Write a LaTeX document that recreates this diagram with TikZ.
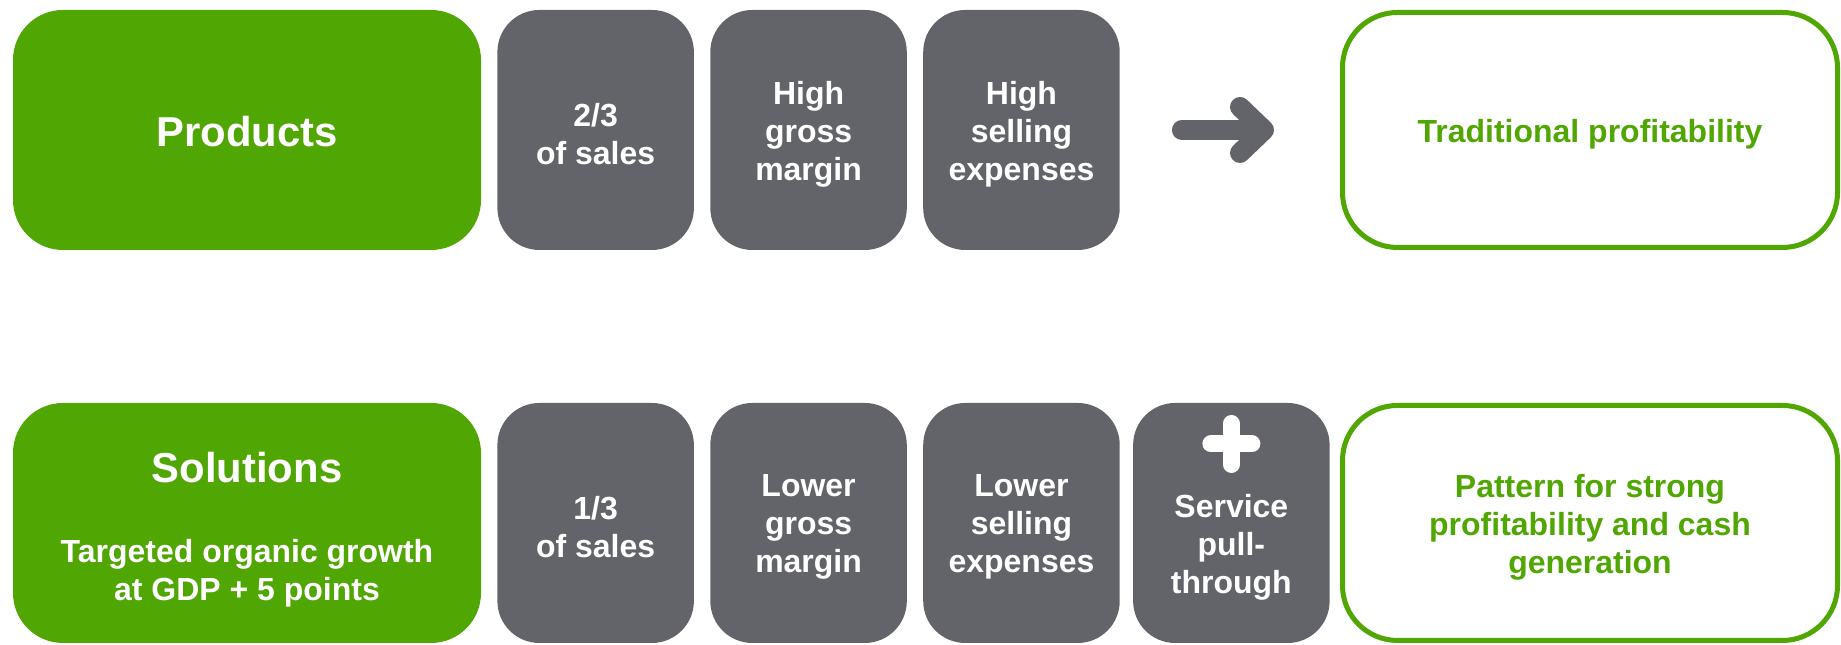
\documentclass[tikz,border=0pt]{standalone}
\usepackage{fontspec}
\setmainfont{Liberation Sans}
\usetikzlibrary{positioning,arrows.meta}

\definecolor{leafgreen}{RGB}{80,166,3}
\definecolor{slategray}{RGB}{99,100,106}

\begin{document}
\begin{tikzpicture}
    % Define styles
    \tikzset{
        groupbox/.style={fill=leafgreen, rounded corners=0.5cm, minimum width=4.68cm, minimum height=2.4cm},
        grouptitle/.style={text=white, font=\bfseries\fontsize{11.9}{14}\selectfont, yshift=-0.015cm},
        factbox/.style={fill=slategray, rounded corners=0.42cm, minimum width=1.965cm, minimum height=2.4cm},
        facttext/.style={text=white, align=center, font=\bfseries\fontsize{9.1}{10.8}\selectfont, yshift=-0.04cm},
        resultbox/.style={draw=leafgreen, line width=0.05cm, rounded corners=0.55cm, minimum width=4.95cm,
            minimum height=2.35cm},
        resulttext/.style={facttext, text=leafgreen},
        bigarrow/.style={slategray, line width=0.2cm, line cap=round,
            -{Straight Barb[round, length=0.24cm, width=0.46cm]}},
        plussign/.style={white, line width=0.17cm, line cap=round}
    }

    \useasboundingbox (0,0) rectangle (18.41,6.45);

    % Products row
    \node[groupbox] (products) at (2.47,5.15) {};
    \node[grouptitle] (productstitle) at (products.center) {Products};
    \node[factbox, right=0.15cm of products] (share) {};
    \node[factbox, right=0.15cm of share] (gross) {};
    \node[factbox, right=0.15cm of gross] (selling) {};
    \node[facttext] (sharetext) at (share.center) {2/3\\of sales};
    \node[facttext] (grosstext) at (gross.center) {High\\gross\\margin};
    \node[facttext] (sellingtext) at (selling.center) {High\\selling\\expenses};
    \node[resultbox] (traditional) at (15.90,5.15) {};
    \node[resulttext] (traditionaltext) at (traditional.center) {Traditional profitability};

    % Arrow to the outcome
    \draw[bigarrow, shorten <=0.615cm, shorten >=0.66cm] (selling) -- (traditional);

    % Solutions row
    \node[groupbox] (solutions) at (2.47,1.22) {};
    \node[grouptitle] (solutionstitle) at ([yshift=0.57cm]solutions.center) {Solutions};
    \node[facttext] (solutionsgoal) at ([yshift=-0.46cm]solutions.center) {Targeted organic growth\\at GDP + 5 points};
    \node[factbox, right=0.15cm of solutions] (lowershare) {};
    \node[factbox, right=0.15cm of lowershare] (lowergross) {};
    \node[factbox, right=0.15cm of lowergross] (lowerselling) {};
    \node[factbox, right=0.12cm of lowerselling] (service) {};
    \node[facttext] (lowersharetext) at (lowershare.center) {1/3\\of sales};
    \node[facttext] (lowergrosstext) at (lowergross.center) {Lower\\gross\\margin};
    \node[facttext] (lowersellingtext) at (lowerselling.center) {Lower\\selling\\expenses};
    \node[facttext] (servicetext) at ([yshift=-0.2cm]service.center) {Service\\pull-\\through};
    \node[resultbox] (pattern) at (15.90,1.22) {};
    \node[resulttext] (patterntext) at (pattern.center) {Pattern for strong\\profitability and cash\\generation};

    % Plus sign on the service box
    \coordinate (plus) at ([yshift=0.79cm]service.center);
    \draw[plussign] ([xshift=-0.205cm]plus) -- ([xshift=0.205cm]plus);
    \draw[plussign] ([yshift=-0.205cm]plus) -- ([yshift=0.205cm]plus);
\end{tikzpicture}
\end{document}
